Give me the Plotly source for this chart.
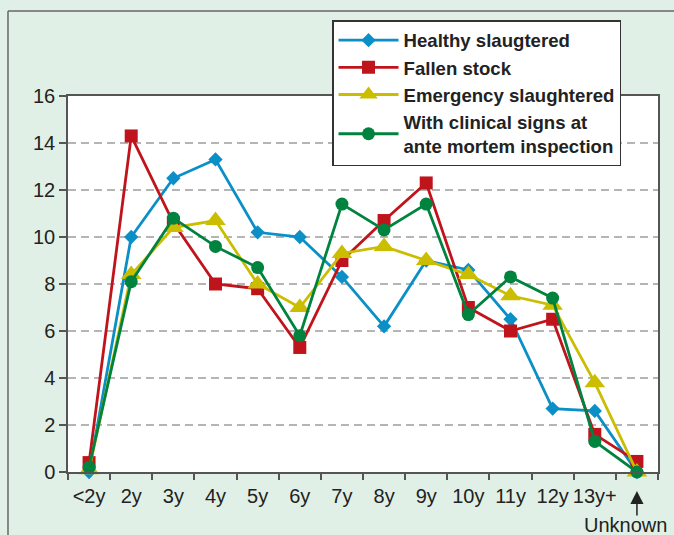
import plotly.graph_objects as go

categories = ["<2y", "2y", "3y", "4y", "5y", "6y", "7y", "8y", "9y", "10y", "11y", "12y", "13y+", "Unknown"]
tick_labels = ["<2y", "2y", "3y", "4y", "5y", "6y", "7y", "8y", "9y", "10y", "11y", "12y", "13y+", ""]

healthy = [0.0, 10.0, 12.5, 13.3, 10.2, 10.0, 8.3, 6.2, 9.0, 8.6, 6.5, 2.7, 2.6, 0.0]
fallen = [0.4, 14.3, 10.6, 8.0, 7.8, 5.3, 9.0, 10.7, 12.3, 7.0, 6.0, 6.5, 1.6, 0.45]
emergency = [0.1, 8.4, 10.4, 10.7, 8.0, 7.0, 9.3, 9.6, 9.0, 8.4, 7.5, 7.1, 3.8, 0.0]
clinical = [0.2, 8.1, 10.8, 9.6, 8.7, 5.8, 11.4, 10.3, 11.4, 6.7, 8.3, 7.4, 1.3, 0.0]

series = [
    ("Healthy slaugtered", healthy, "#0a8fc6", "diamond", 11),
    ("Fallen stock", fallen, "#c0141c", "square", 13),
    ("Emergency slaughtered", emergency, "#cbbd00", "triangle-up", 18),
    ("With clinical signs at<br>ante mortem inspection", clinical, "#00833f", "circle", 13),
]

FONT = "Liberation Sans, Arial, sans-serif"
BG = "#e1f0e6"

fig = go.Figure()
for name, vals, color, sym, size in series:
    fig.add_trace(go.Scatter(
        x=categories, y=vals, name=name, mode="lines+markers",
        line=dict(color=color, width=2.8),
        marker=dict(symbol=sym, size=size, color=color, line=dict(width=0)),
        cliponaxis=False,
    ))

fig.update_layout(
    width=674, height=535,
    margin=dict(l=68, r=16, t=96, b=63),
    paper_bgcolor=BG, plot_bgcolor="white",
    font=dict(family=FONT, size=20, color="#222"),
    showlegend=True,
    legend=dict(
        x=0.4475, y=1.202, xanchor="left", yanchor="top",
        bgcolor="white", bordercolor="#333", borderwidth=1.5,
        font=dict(family=FONT, size=18.6, color="#222", weight="bold"),
        tracegroupgap=0, itemwidth=60,
    ),
    xaxis=dict(
        type="category", categoryorder="array", categoryarray=categories,
        tickvals=categories, ticktext=tick_labels, tickangle=0,
        range=[-0.5, len(categories) - 0.5],
        tickson="boundaries", ticks="outside", ticklen=6, tickwidth=1.5, tickcolor="#555",
        showline=True, linecolor="#555", linewidth=1.5, mirror=True,
        showgrid=False, zeroline=False,
        tickfont=dict(family=FONT, size=20, color="#222"),
        ticklabelstandoff=5,
    ),
    yaxis=dict(
        range=[0, 16], dtick=2, tick0=0,
        ticks="outside", ticklen=7, tickwidth=1.5, tickcolor="#555",
        showline=True, linecolor="#555", linewidth=1.5, mirror=True,
        showgrid=True, gridcolor="#b5b5b5", gridwidth=2, griddash="8px,5px",
        zeroline=False,
        tickfont=dict(family=FONT, size=20, color="#222"),
    ),
)

# outer frame lines (top and left), in paper coordinates
fig.add_shape(type="line", xref="paper", yref="paper",
              x0=-0.1017, x1=1.03, y0=1.226, y1=1.226,
              line=dict(color="#666", width=1.5))
fig.add_shape(type="line", xref="paper", yref="paper",
              x0=-0.1017, x1=-0.1017, y0=1.226, y1=-0.17,
              line=dict(color="#666", width=1.5))

# "Unknown" label with upward arrow
fig.add_annotation(
    x="Unknown", y=-0.0505, xref="x", yref="paper",
    text="", showarrow=True, ax=0, ay=25,
    arrowhead=2, arrowsize=1.75, arrowwidth=1.5, arrowcolor="#222",
    font=dict(size=1), borderpad=0,
)
fig.add_annotation(
    x="Unknown", y=-0.141, xref="x", yref="paper", xshift=-11,
    text="Unknown", showarrow=False, xanchor="center", yanchor="middle",
    font=dict(family=FONT, size=20, color="#222"),
)

fig.write_html("out.html", config={"displayModeBar": False},
               post_script="document.body.style.margin='0';document.body.style.overflow='hidden';")
